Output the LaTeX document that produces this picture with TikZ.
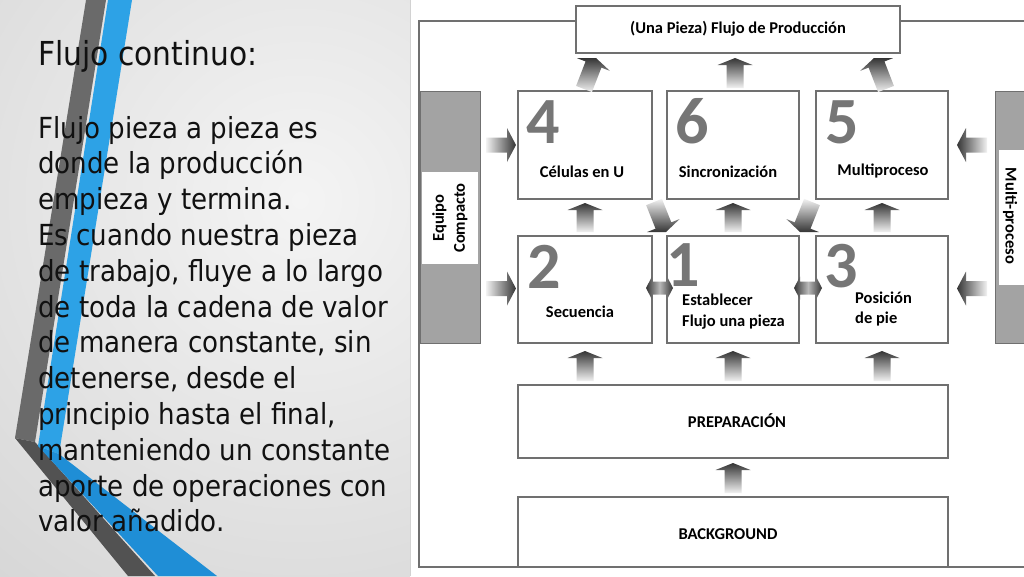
\documentclass[tikz,border=0pt]{standalone}
\usepackage{fontspec}
\newfontfamily\slidefont{DejaVu Sans}[FakeStretch=0.9]
\newfontfamily\diagfont{Carlito}
\usetikzlibrary{calc}
\definecolor{boxline}{HTML}{707070}
\definecolor{barfill}{HTML}{A3A3A3}
\definecolor{numgrey}{HTML}{767676}
\definecolor{arrdark}{HTML}{353535}
\definecolor{arrlight}{HTML}{F2F2F2}
\definecolor{stripeg}{HTML}{6A6A6A}
\definecolor{stripegd}{HTML}{525252}
\definecolor{stripeb}{HTML}{2DA2E6}
\definecolor{stripebd}{HTML}{1F8ED6}
\definecolor{bgin}{HTML}{F4F4F4}
\definecolor{bgout}{HTML}{BEBEBE}
\definecolor{inktext}{HTML}{111111}
% #1 shaft half, #2 head half, #3 head length, #4 shading, #5 tail, #6 tip
\newcommand{\fatarrow}[6]{%
  \coordinate (hb) at ($(#6)!#3pt!(#5)$);
  \shade[#4] ($(#5)!#1pt!90:(#6)$) -- ($(hb)!#1pt!90:(#6)$) -- ($(hb)!#2pt!90:(#6)$) -- (#6)
    -- ($(hb)!#2pt!-90:(#6)$) -- ($(hb)!#1pt!-90:(#6)$) -- ($(#5)!#1pt!-90:(#6)$) -- cycle;}
% double-headed horizontal arrow: #1 left tip, #2 right tip
\newcommand{\dblarrow}[2]{%
  \shade[left color=arrdark, right color=arrdark, middle color=gray!55]
    (#1) -- ($(#1)+(6,-11.5)$) -- ($(#1)+(6,-6.5)$) -- ($(#2)+(-6,-6.5)$) -- ($(#2)+(-6,-11.5)$) -- (#2)
    -- ($(#2)+(-6,11.5)$) -- ($(#2)+(-6,6.5)$) -- ($(#1)+(6,6.5)$) -- ($(#1)+(6,11.5)$) -- cycle;}
\begin{document}
\begin{tikzpicture}[x=1pt,y=-1pt,
  box/.style={draw=boxline, line width=1.2pt, fill=white, inner sep=0pt, outer sep=0pt, anchor=north west},
  lbl/.style={font=\diagfont\bfseries\fontsize{16.5}{21}\selectfont, text=black, inner sep=0pt},
  num/.style={font=\diagfont\bfseries\fontsize{66}{66}\selectfont, text=numgrey, inner sep=0pt, anchor=base west},
  slide/.style={font=\slidefont\fontsize{29}{36}\selectfont, text=inktext, inner sep=0pt, anchor=base west},
  upar/.style={top color=arrdark, bottom color=arrlight},
  downar/.style={top color=arrlight, bottom color=arrdark},
  rightar/.style={left color=arrlight, right color=arrdark},
  leftar/.style={left color=arrdark, right color=arrlight}]
\useasboundingbox (0,0) rectangle (1024,576);
\clip (0,0) rectangle (1024,576);
% ---------- left slide background ----------
\begin{scope}
  \clip (0,0) rectangle (410,576);
  \shade[inner color=bgin, outer color=bgout] (-600,-700) rectangle (1200,1100);
\end{scope}
\fill[white] (410,0) rectangle (1024,576);
\draw[gray!35, line width=0.8pt] (410,0) -- (410,576);
% ---------- decorative stripes ----------
\fill[stripeg] (86,0) -- (106,0) -- (35,442) -- (15,438) -- cycle;
\fill[stripegd] (15,438) -- (35,442) -- (155,576) -- (128,576) -- cycle;
\fill[stripeb] (108,0) -- (132,0) -- (59,454) -- (38,446) -- cycle;
\fill[stripebd] (38,446) -- (59,454) -- (217,576) -- (158,576) -- cycle;
% ---------- slide text ----------
\node[slide, font=\slidefont\fontsize{33}{40}\selectfont] (title) at (38,65) {Flujo continuo:};
\foreach \t [count=\i] in {{Flujo pieza a pieza es},{donde la producción},{empieza y termina.},
  {Es cuando nuestra pieza},{de trabajo, fluye a lo largo},{de toda la cadena de valor},
  {de manera constante, sin},{detenerse, desde el},{principio hasta el final,},
  {manteniendo un constante},{aporte de operaciones con},{valor añadido.}}
  \node[slide] (line\i) at (38,{138+35.8*(\i-1)}) {\t};
% ---------- diagram frame ----------
\draw[draw=boxline, line width=1.2pt] (419,21) rectangle (1040,567);
% side bars
\node[box, fill=barfill, line width=0.8pt, minimum width=60pt, minimum height=252pt] (lbar) at (420,91) {};
\node[box, draw=none, minimum width=56pt, minimum height=92pt] (lwhite) at (422,172) {};
\node[lbl, rotate=90, align=center] (eqc) at (lwhite.center) {Equipo\\Compacto};
\node[box, fill=barfill, line width=0.8pt, minimum width=45pt, minimum height=252pt] (rbar) at (995,91) {};
\node[box, draw=none, minimum width=40pt, minimum height=135pt] (rwhite) at (999,150) {};
\node[lbl, rotate=-90] (mpc) at (1010,216) {Multi-proceso};
% boxes
\node[box, minimum width=324pt, minimum height=47pt] (top) at (576,6) {};
\node[box, minimum width=134pt, minimum height=108pt] (b4) at (518,91) {};
\node[box, minimum width=132pt, minimum height=108pt] (b6) at (667,91) {};
\node[box, minimum width=132pt, minimum height=108pt] (b5) at (816,91) {};
\node[box, minimum width=134pt, minimum height=107pt] (b2) at (518,236) {};
\node[box, minimum width=132pt, minimum height=107pt] (b1) at (667,236) {};
\node[box, minimum width=132pt, minimum height=107pt] (b3) at (816,236) {};
\node[box, minimum width=430pt, minimum height=73pt] (prep) at (518,385) {};
\node[box, minimum width=430pt, minimum height=70pt] (bgbox) at (518,497) {};
% numerals
\node[num] (n4) at (526,143) {4};
\node[num] (n6) at (675,143) {6};
\node[num] (n5) at (825,143) {5};
\node[num] (n2) at (527,288) {2};
\node[num] (n1) at (666,286) {1};
\node[num] (n3) at (824,287) {3};
% labels
\node[lbl, anchor=base] (lt) at (738,33) {(Una Pieza) Flujo de Producción};
\node[lbl, anchor=base] (l4) at (582,177) {Células en U};
\node[lbl, anchor=base] (l6) at (728,177) {Sincronización};
\node[lbl, anchor=base] (l5) at (883,175) {Multiproceso};
\node[lbl, anchor=base] (l2) at (580,317) {Secuencia};
\node[lbl, anchor=base west] (l1a) at (682,305) {Establecer};
\node[lbl, anchor=base west] (l1b) at (682,326) {Flujo una pieza};
\node[lbl, anchor=base west] (l3a) at (855,303) {Posición};
\node[lbl, anchor=base west] (l3b) at (855,323) {de pie};
\node[lbl, anchor=base] (lp) at (737,427) {PREPARACIÓN};
\node[lbl, anchor=base] (lb) at (728,539) {BACKGROUND};
% ---------- arrows ----------
% row 2 -> row 1
\fatarrow{8.5}{17.5}{7}{upar}{$(b2.north)+(0,-4)$}{$(b4.south)+(0,4)$}
\fatarrow{8.5}{17.5}{7}{upar}{$(b1.north)+(0,-4)$}{$(b6.south)+(0,4)$}
\fatarrow{8.5}{17.5}{7}{upar}{$(b3.north)+(0,-4)$}{$(b5.south)+(0,4)$}
% preparation -> row 2
\fatarrow{8.5}{17.5}{7}{upar}{$(b2.south |- prep.north)+(0,-4)$}{$(b2.south)+(0,8)$}
\fatarrow{8.5}{17.5}{7}{upar}{$(b1.south |- prep.north)+(0,-4)$}{$(b1.south)+(0,8)$}
\fatarrow{8.5}{17.5}{7}{upar}{$(b3.south |- prep.north)+(0,-4)$}{$(b3.south)+(0,8)$}
% background -> preparation
\fatarrow{8.5}{17.5}{7}{upar}{$(bgbox.north)+(0,-4)$}{$(prep.south)+(0,5)$}
% row 1 -> top
\fatarrow{8.5}{17.5}{7}{upar}{$(b4.north)+(-1,-2)$}{$(top.south)+(-142,5)$}
\fatarrow{8.5}{17.5}{7}{upar}{$(b6.north)+(2,-3)$}{$(b6.north |- top.south)+(2,5)$}
\fatarrow{8.5}{17.5}{7}{upar}{$(b5.north)+(4,-2)$}{$(top.south)+(136,5)$}
% diagonal row 1 -> box 1
\fatarrow{8.5}{17.5}{7}{downar}{$(b4.south east)+(2,3)$}{$(b1.north west)+(-1,-4)$}
\fatarrow{8.5}{17.5}{7}{downar}{$(b5.south west)+(-4,3)$}{$(b1.north east)+(1,-4)$}
% side bars -> boxes
\fatarrow{7.5}{17}{9}{rightar}{$(lbar.east |- b4.west)+(6,0)$}{$(b4.west)+(-2,0)$}
\fatarrow{7.5}{17}{9}{rightar}{$(lbar.east |- b2.west)+(6,-1)$}{$(b2.west)+(-2,-1)$}
\fatarrow{7.5}{17}{9}{leftar}{$(rbar.west |- b5.east)+(-8,0)$}{$(b5.east)+(9,0)$}
\fatarrow{7.5}{17}{9}{leftar}{$(rbar.west |- b3.east)+(-8,-1)$}{$(b3.east)+(9,-1)$}
% double arrows between row 2 boxes
\coordinate (d1l) at ($(b2.east)+(-6,-1.5)$);
\coordinate (d1r) at ($(b1.west)+(6,-1.5)$);
\coordinate (d2l) at ($(b1.east)+(-5,-1.5)$);
\coordinate (d2r) at ($(b3.west)+(6,-1.5)$);
\dblarrow{d1l}{d1r}
\dblarrow{d2l}{d2r}
\end{tikzpicture}
\end{document}
